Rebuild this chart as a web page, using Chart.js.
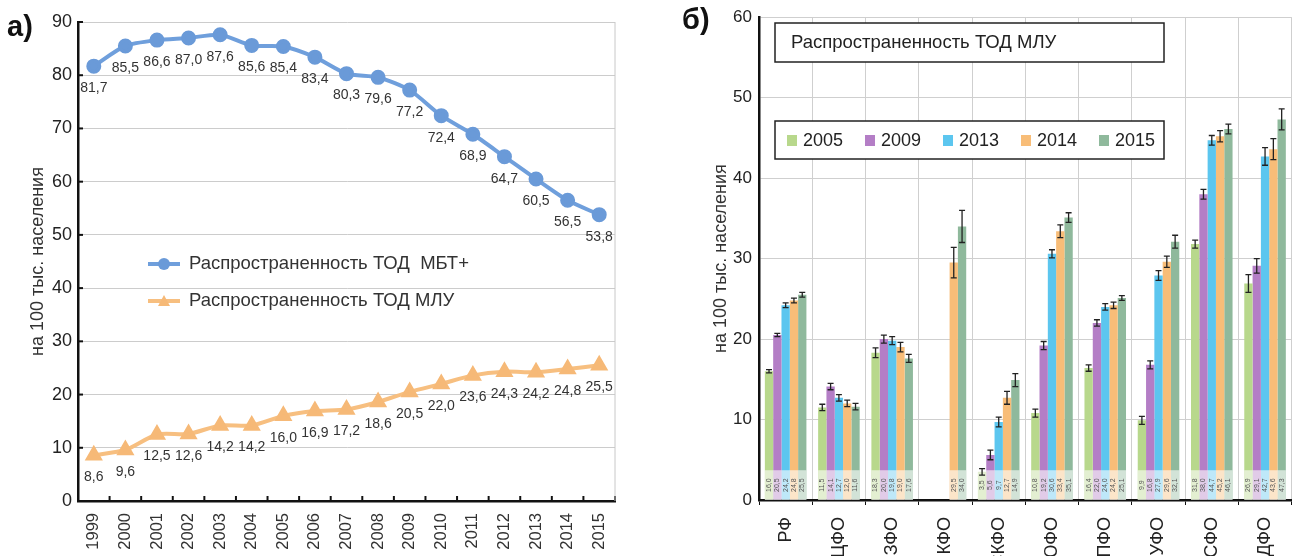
<!DOCTYPE html>
<html>
<head>
<meta charset="utf-8">
<script src="https://cdn.jsdelivr.net/npm/chart.js@4.4.1/dist/chart.umd.min.js"></script>
<style>
  html, body { margin: 0; padding: 0; background: #fff; overflow: hidden; width: 1299px; height: 556px; }
  .panel { position: absolute; top: 0; }
  #wrap-a { left: 0; width: 640px; height: 556px; }
  #wrap-b { left: 660px; width: 639px; height: 580px; }
  .tag { position: absolute; font: bold 29px "Liberation Sans", Arial, sans-serif; color: #111; line-height: 1; }
</style>
</head>
<body>
<div class="panel" id="wrap-a"><canvas id="chart-a" width="640" height="556"></canvas></div>
<div class="panel" id="wrap-b"><canvas id="chart-b" width="639" height="580"></canvas></div>
<div class="tag" style="left:7px;top:12px">а)</div>
<div class="tag" style="left:682px;top:5px">б)</div>
<script>
  'use strict';

  // --- panel a: line chart ---
  var YEARS = ['1999', '2000', '2001', '2002', '2003', '2004', '2005', '2006', '2007', '2008',
    '2009', '2010', '2011', '2012', '2013', '2014', '2015'];
  var TOD_MBT = [81.7, 85.5, 86.6, 87.0, 87.6, 85.6, 85.4, 83.4, 80.3, 79.6, 77.2, 72.4, 68.9, 64.7, 60.5, 56.5, 53.8];
  var TOD_MLU = [8.6, 9.6, 12.5, 12.6, 14.2, 14.2, 16.0, 16.9, 17.2, 18.6, 20.5, 22.0, 23.6, 24.3, 24.2, 24.8, 25.5];
  var A_Y_MIN = 0, A_Y_MAX = 90, A_Y_STEP = 10;

  // --- panel b: grouped bars with error bars ---
  var DISTRICTS = ['РФ', 'ЦФО', 'СЗФО', 'КФО', 'СКФО', 'ЮФО', 'ПФО', 'УФО', 'СФО', 'ДФО'];
  var B_YEARS = ['2005', '2009', '2013', '2014', '2015'];
  var V2005 = [16.0, 11.5, 18.3, null, 3.5, 10.8, 16.4, 9.9, 31.8, 26.9];
  var V2009 = [20.5, 14.1, 20.0, null, 5.6, 19.2, 22.0, 16.8, 38.0, 29.1];
  var V2013 = [24.2, 12.7, 19.8, null, 9.7, 30.6, 24.0, 27.9, 44.7, 42.7];
  var V2014 = [24.8, 12.0, 19.0, 29.5, 12.7, 33.4, 24.2, 29.6, 45.2, 43.6];
  var V2015 = [25.5, 11.6, 17.6, 34.0, 14.9, 35.1, 25.1, 32.1, 46.1, 47.3];
  var E2005 = [0.2, 0.4, 0.6, null, 0.4, 0.5, 0.4, 0.5, 0.5, 1.1];
  var E2009 = [0.2, 0.4, 0.5, null, 0.6, 0.5, 0.4, 0.5, 0.6, 0.9];
  var E2013 = [0.3, 0.4, 0.5, null, 0.6, 0.5, 0.4, 0.6, 0.6, 1.1];
  var E2014 = [0.3, 0.4, 0.6, 1.9, 0.8, 0.8, 0.4, 0.7, 0.7, 1.3];
  var E2015 = [0.3, 0.4, 0.5, 2.0, 0.8, 0.6, 0.3, 0.8, 0.6, 1.3];
  var B_Y_MIN = 0, B_Y_MAX = 60, B_Y_STEP = 10;

  var FONT = '"Liberation Sans", Arial, Helvetica, sans-serif';
  Chart.defaults.font.family = FONT;

  function fmt(v) { return v.toFixed(1).replace('.', ','); }

  // small inward tick marks on the axes of panel a
  var innerTicks = {
    id: 'innerTicks',
    afterDraw: function (chart) {
      var ctx = chart.ctx, x = chart.scales.x, y = chart.scales.y, area = chart.chartArea;
      ctx.save();
      ctx.strokeStyle = '#111';
      ctx.lineWidth = 2;
      var half = (x.getPixelForTick(1) - x.getPixelForTick(0)) / 2;
      for (var i = 0; i <= x.ticks.length; i++) {
        var px = x.getPixelForTick(0) - half + i * half * 2;
        ctx.beginPath(); ctx.moveTo(px, area.bottom); ctx.lineTo(px, area.bottom - 5); ctx.stroke();
      }
      y.ticks.forEach(function (t, i) {
        var py = y.getPixelForTick(i);
        ctx.beginPath(); ctx.moveTo(area.left, py); ctx.lineTo(area.left + 5, py); ctx.stroke();
      });
      ctx.strokeStyle = '#c8c8c8';
      ctx.lineWidth = 1;
      ctx.beginPath(); ctx.moveTo(area.right, area.top); ctx.lineTo(area.right, area.bottom); ctx.stroke();
      ctx.restore();
    }
  };

  var pointLabels = {
    id: 'pointLabels',
    afterDatasetsDraw: function (chart) {
      var ctx = chart.ctx;
      ctx.save();
      ctx.font = '14px ' + FONT;
      ctx.fillStyle = '#333';
      ctx.textAlign = 'center';
      ctx.textBaseline = 'middle';
      chart.data.datasets.forEach(function (ds, i) {
        chart.getDatasetMeta(i).data.forEach(function (pt, j) {
          ctx.fillText(fmt(ds.data[j]), pt.x, pt.y + 22);
        });
      });
      ctx.restore();
    }
  };

  var lineLegend = {
    id: 'lineLegend',
    afterDraw: function (chart) {
      var ctx = chart.ctx, area = chart.chartArea;
      var x0 = area.left + 70, rows = [area.top + 242, area.top + 279];
      ctx.save();
      ctx.font = '18.5px ' + FONT;
      ctx.textBaseline = 'middle';
      chart.data.datasets.forEach(function (ds, i) {
        var yy = rows[i];
        ctx.strokeStyle = ds.borderColor;
        ctx.lineWidth = 4;
        ctx.beginPath(); ctx.moveTo(x0, yy); ctx.lineTo(x0 + 32, yy); ctx.stroke();
        ctx.fillStyle = ds.pointBackgroundColor;
        ctx.beginPath();
        if (ds.pointStyle === 'triangle') {
          ctx.moveTo(x0 + 16, yy - 6); ctx.lineTo(x0 + 22, yy + 5); ctx.lineTo(x0 + 10, yy + 5); ctx.closePath();
        } else {
          ctx.arc(x0 + 16, yy, 6, 0, Math.PI * 2);
        }
        ctx.fill();
        ctx.fillStyle = '#333';
        ctx.fillText(ds.label, x0 + 41, yy);
      });
      ctx.restore();
    }
  };

  new Chart(document.getElementById('chart-a'), {
    type: 'line',
    data: {
      labels: YEARS,
      datasets: [
        { label: 'Распространенность ТОД  МБТ+', data: TOD_MBT, borderColor: '#6f9fdc', backgroundColor: '#6a9ad8',
          pointBackgroundColor: '#6a9ad8', pointBorderColor: '#6a9ad8', pointRadius: 5.5, pointStyle: 'circle',
          borderWidth: 4, tension: 0.25 },
        { label: 'Распространенность ТОД МЛУ', data: TOD_MLU, borderColor: '#f7bf80', backgroundColor: '#f6b977',
          pointBackgroundColor: '#f6b977', pointBorderColor: '#f6b977', pointRadius: 6.5, pointStyle: 'triangle',
          borderWidth: 4, tension: 0.25 }
      ]
    },
    options: {
      responsive: false, animation: false, devicePixelRatio: 1,
      layout: { padding: { top: 22, right: 25, left: 0, bottom: 0 } },
      plugins: { legend: { display: false }, tooltip: { enabled: false } },
      scales: {
        x: {
          offset: true,
          grid: { display: false, drawTicks: false },
          border: { color: '#111', width: 2.5 },
          ticks: { maxRotation: 90, minRotation: 90, padding: 12, color: '#333', font: { size: 16.5 } },
          afterFit: function (s) { s.height = 55; }
        },
        y: {
          min: A_Y_MIN, max: A_Y_MAX,
          ticks: { stepSize: A_Y_STEP, padding: 6, color: '#222', font: { size: 18 } },
          grid: { color: '#cccccc', drawTicks: false },
          border: { color: '#111', width: 2.5 },
          title: { display: true, text: 'на 100 тыс. населения', color: '#333', font: { size: 18 }, padding: { top: 27, bottom: 0 } },
          afterFit: function (s) { s.width = 78; }
        }
      }
    },
    plugins: [innerTicks, pointLabels, lineLegend]
  });

  // --- panel b ---
  var B_COLORS = ['#b8d88c', '#b47ec6', '#5cc6ef', '#f8bd78', '#8fb99c'];
  var B_VALUES = [V2005, V2009, V2013, V2014, V2015];
  var B_ERRORS = [E2005, E2009, E2013, E2014, E2015];

  var barExtras = {
    id: 'barExtras',
    afterDatasetsDraw: function (chart) {
      var ctx = chart.ctx, y = chart.scales.y;
      var bandTop = y.getPixelForValue(3.7), base = y.getPixelForValue(0);
      ctx.save();
      chart.data.datasets.forEach(function (ds, i) {
        chart.getDatasetMeta(i).data.forEach(function (bar, j) {
          if (ds.data[j] == null) return;
          var w = bar.width;
          ctx.fillStyle = 'rgba(255,255,255,0.6)';
          ctx.fillRect(bar.x - w / 2, bandTop, w, base - bandTop);
          ctx.save();
          ctx.translate(bar.x, (bandTop + base) / 2);
          ctx.rotate(-Math.PI / 2);
          ctx.font = '7px ' + FONT;
          ctx.fillStyle = '#555';
          ctx.textAlign = 'center';
          ctx.textBaseline = 'middle';
          ctx.fillText(fmt(ds.data[j]), 0, 0);
          ctx.restore();
        });
      });
      // error bars
      ctx.strokeStyle = '#222';
      ctx.lineWidth = 1.3;
      chart.data.datasets.forEach(function (ds, i) {
        chart.getDatasetMeta(i).data.forEach(function (bar, j) {
          var v = ds.data[j], e = B_ERRORS[i][j];
          if (v == null || e == null) return;
          var top = y.getPixelForValue(v + e), bot = y.getPixelForValue(v - e);
          ctx.beginPath();
          ctx.moveTo(bar.x, top); ctx.lineTo(bar.x, bot);
          ctx.moveTo(bar.x - 3, top); ctx.lineTo(bar.x + 3, top);
          ctx.moveTo(bar.x - 3, bot); ctx.lineTo(bar.x + 3, bot);
          ctx.stroke();
        });
      });
      ctx.restore();
    }
  };

  var boxLegend = {
    id: 'boxLegend',
    afterDraw: function (chart) {
      var ctx = chart.ctx, area = chart.chartArea;
      var left = area.left + 16, width = 389;
      ctx.save();
      ctx.fillStyle = '#fff';
      ctx.strokeStyle = '#222';
      ctx.lineWidth = 1.5;
      ctx.fillRect(left, 23, width, 39);
      ctx.strokeRect(left, 23, width, 39);
      ctx.fillRect(left, 121, width, 38);
      ctx.strokeRect(left, 121, width, 38);
      ctx.fillStyle = '#222';
      ctx.font = '18.5px ' + FONT;
      ctx.textBaseline = 'middle';
      ctx.fillText('Распространенность ТОД МЛУ', left + 16, 43);
      ctx.font = '18px ' + FONT;
      chart.data.datasets.forEach(function (ds, i) {
        var sx = left + 12 + i * 78;
        ctx.fillStyle = ds.backgroundColor;
        ctx.fillRect(sx, 135, 10, 11);
        ctx.fillStyle = '#222';
        ctx.fillText(ds.label, sx + 16, 141);
      });
      ctx.restore();
    }
  };

  new Chart(document.getElementById('chart-b'), {
    type: 'bar',
    data: {
      labels: DISTRICTS,
      datasets: B_YEARS.map(function (yr, i) {
        return { label: yr, data: B_VALUES[i], backgroundColor: B_COLORS[i], borderWidth: 0,
          categoryPercentage: 0.78, barPercentage: 1.0 };
      })
    },
    options: {
      responsive: false, animation: false, devicePixelRatio: 1,
      layout: { padding: { top: 16, right: 7, left: 0, bottom: 0 } },
      plugins: { legend: { display: false }, tooltip: { enabled: false } },
      scales: {
        x: {
          grid: { color: '#cfcfcf', tickColor: '#111', tickLength: 5, offset: true },
          border: { color: '#111', width: 2.5 },
          ticks: { maxRotation: 90, minRotation: 90, padding: 12, color: '#222', font: { size: 18 } },
          afterFit: function (s) { s.height = 80; }
        },
        y: {
          min: B_Y_MIN, max: B_Y_MAX,
          ticks: { stepSize: B_Y_STEP, padding: 7, color: '#222', font: { size: 17 } },
          grid: { color: '#cfcfcf', drawTicks: false },
          border: { color: '#111', width: 2.5 },
          title: { display: true, text: 'на 100 тыс. населения', color: '#333', font: { size: 18 }, padding: { top: 50, bottom: 0 } },
          afterFit: function (s) { s.width = 99; }
        }
      }
    },
    plugins: [barExtras, boxLegend]
  });
</script>
</body>
</html>
